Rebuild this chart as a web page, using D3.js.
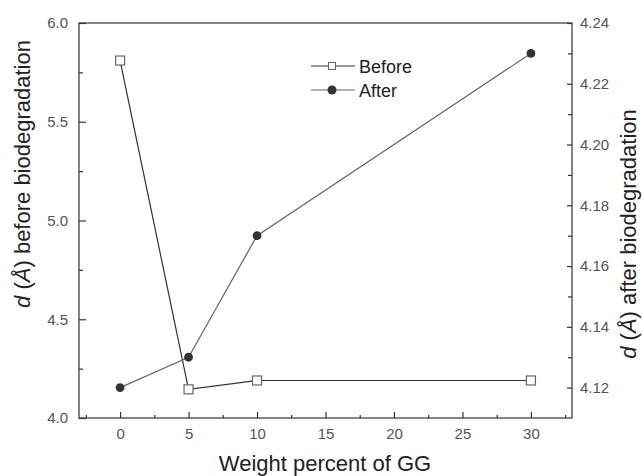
<!DOCTYPE html>
<html>
<head>
<meta charset="utf-8">
<script src="https://cdn.jsdelivr.net/npm/d3@7"></script>
<style>
  html, body { margin: 0; padding: 0; background: #fff; }
  svg { display: block; font-family: "Liberation Sans", Arial, sans-serif; }
</style>
</head>
<body>
<svg id="chart" width="642" height="476"></svg>
<script>
// GG loading (wt %) and interlayer spacing d (Å)
const weightPercent = [0, 5, 10, 30];
const dBefore = [5.81, 4.145, 4.19, 4.19];
const dAfter = [4.12, 4.13, 4.17, 4.23];

const xTicks = [0, 5, 10, 15, 20, 25, 30];
const leftTicks = [4.0, 4.5, 5.0, 5.5, 6.0];
const rightTicks = [4.12, 4.14, 4.16, 4.18, 4.20, 4.22, 4.24];
const seriesNames = ["Before", "After"];

const svg = d3.select("#chart");
const L = 79, R = 572, T = 23, B = 418;

const x = d3.scaleLinear().domain([-3, 33]).range([L, R]);
const yL = d3.scaleLinear().domain([4.0, 6.0]).range([B, T]);
const yR = d3.scaleLinear().domain([4.11, 4.24]).range([B, T]);

const axisColor = "#333";
const labelColor = "#555";

// frame
svg.append("rect").attr("x", L).attr("y", T).attr("width", R - L).attr("height", B - T)
  .attr("fill", "none").attr("stroke", axisColor).attr("stroke-width", 1.2);

// bottom axis
const gx = svg.append("g").attr("transform", `translate(0,${B})`);
gx.call(d3.axisBottom(x).tickValues(xTicks).tickSizeInner(-6).tickSizeOuter(0).tickPadding(10).tickFormat(d3.format("d")));
const gxMinor = svg.append("g").attr("transform", `translate(0,${B})`);
gxMinor.call(d3.axisBottom(x).tickValues(d3.range(-2.5, 33, 5)).tickSizeInner(-3).tickSizeOuter(0).tickFormat(""));

// left axis
const gl = svg.append("g").attr("transform", `translate(${L},0)`);
gl.call(d3.axisLeft(yL).tickValues(leftTicks).tickSizeInner(-7).tickSizeOuter(0).tickPadding(11).tickFormat(d3.format(".1f")));
const glMinor = svg.append("g").attr("transform", `translate(${L},0)`);
glMinor.call(d3.axisLeft(yL).tickValues(d3.range(4.25, 6, 0.5)).tickSizeInner(-4).tickSizeOuter(0).tickFormat(""));

// right axis
const gr = svg.append("g").attr("transform", `translate(${R},0)`);
gr.call(d3.axisRight(yR).tickValues(rightTicks).tickSizeInner(-5).tickSizeOuter(0).tickPadding(8).tickFormat(d3.format(".2f")));
const grMinor = svg.append("g").attr("transform", `translate(${R},0)`);
grMinor.call(d3.axisRight(yR).tickValues(d3.range(4.13, 4.24, 0.02)).tickSizeInner(-4).tickSizeOuter(0).tickFormat(""));

[gx, gxMinor, gl, glMinor, gr, grMinor].forEach(g => {
  g.select(".domain").remove();
  g.selectAll(".tick line").attr("stroke", axisColor).attr("stroke-width", 1.2);
  g.selectAll(".tick text").attr("fill", labelColor).style("font-size", "15px")
    .style("font-family", "'Liberation Sans', Arial, sans-serif");
});

// axis titles
svg.append("text").attr("x", 325).attr("y", 471).attr("text-anchor", "middle")
  .attr("fill", "#222").style("font-size", "22px").text("Weight percent of GG");

function yTitle(cx, cy, rest) {
  const t = svg.append("text").attr("transform", `translate(${cx},${cy}) rotate(-90)`)
    .attr("text-anchor", "middle").attr("fill", "#222").style("font-size", "22px");
  t.append("tspan").style("font-style", "italic").text("d");
  t.append("tspan").text(" (");
  t.append("tspan").style("font-style", "italic").text("Å");
  t.append("tspan").text(") " + rest);
}
yTitle(29.5, 174, "before biodegradation");
yTitle(636, 234, "after biodegradation");

// series
const lineB = d3.line().x((d, i) => x(weightPercent[i])).y(d => yL(d));
const lineA = d3.line().x((d, i) => x(weightPercent[i])).y(d => yR(d));

svg.append("path").datum(dBefore).attr("d", lineB).attr("fill", "none")
  .attr("stroke", "#333").attr("stroke-width", 1.2);
svg.append("path").datum(dAfter).attr("d", lineA).attr("fill", "none")
  .attr("stroke", "#666").attr("stroke-width", 1.2);

const sq = 9;
svg.append("g").selectAll("rect").data(dBefore).join("rect")
  .attr("x", (d, i) => x(weightPercent[i]) - sq / 2).attr("y", d => yL(d) - sq / 2)
  .attr("width", sq).attr("height", sq).attr("fill", "#fff").attr("stroke", "#666").attr("stroke-width", 1.2);

svg.append("g").selectAll("circle").data(dAfter).join("circle")
  .attr("cx", (d, i) => x(weightPercent[i])).attr("cy", d => yR(d)).attr("r", 4.4)
  .attr("fill", "#333");

// legend
const lg = svg.append("g").attr("transform", "translate(311,0)");
const rows = [66, 90];
rows.forEach((ly, i) => {
  lg.append("line").attr("x1", 0).attr("x2", 44).attr("y1", ly).attr("y2", ly)
    .attr("stroke", i === 0 ? "#333" : "#666").attr("stroke-width", 1.2);
  if (i === 0) {
    lg.append("rect").attr("x", 21 - 3.5).attr("y", ly - 3.5).attr("width", 7).attr("height", 7)
      .attr("fill", "#fff").attr("stroke", "#666").attr("stroke-width", 1.1);
  } else {
    lg.append("circle").attr("cx", 21).attr("cy", ly).attr("r", 4.5).attr("fill", "#333");
  }
  lg.append("text").attr("x", 48).attr("y", ly + 6.5).attr("fill", "#222")
    .style("font-size", "18px").text(seriesNames[i]);
});
</script>
</body>
</html>
